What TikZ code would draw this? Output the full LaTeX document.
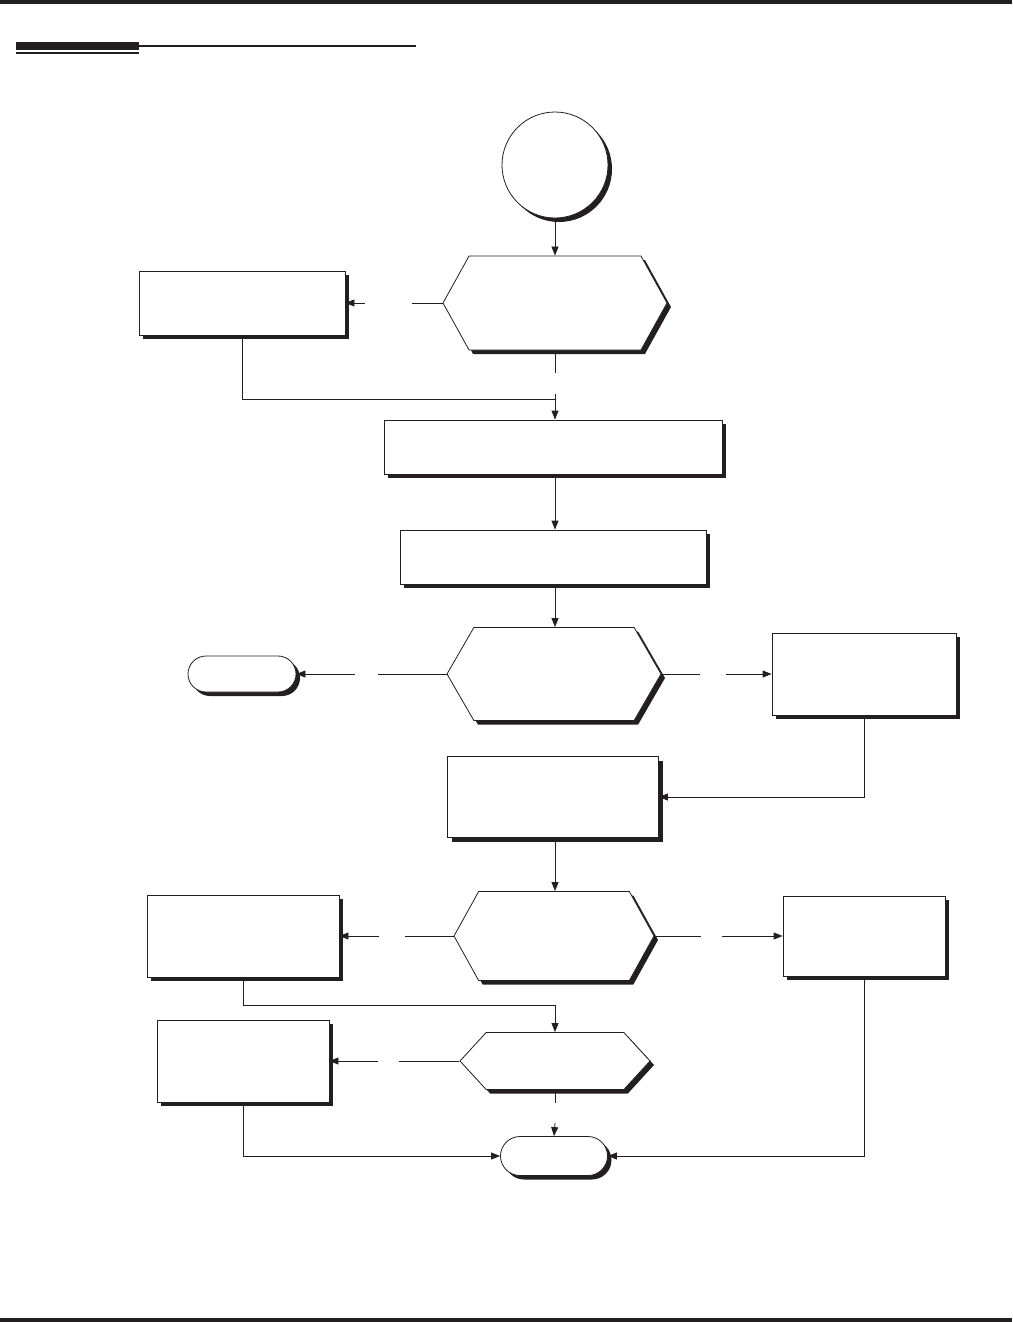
\documentclass[tikz,border=0pt]{standalone}
\usepackage{tikz}
\usetikzlibrary{arrows.meta, positioning, shapes.misc, shapes.symbols, shadows}
\definecolor{ink}{RGB}{35,31,32}

\begin{document}
\begin{tikzpicture}[
	x=1pt, y=-1pt,
	color=ink,
	line width=0.8pt,
	>={Triangle[length=9pt,width=7pt]},
	% Style for the offset shadow behind every shape
	shadowed/.style={drop shadow={shadow xshift=4pt, shadow yshift=-4pt, fill=ink, opacity=1}},
	% Style for process boxes
	box/.style={rectangle, draw, fill=white, inner sep=0pt, shadowed},
	% Style for decision hexagons
	decision/.style={signal, signal to=east and west, draw, fill=white, inner sep=0pt, shadowed},
	% Style for start / end terminals
	terminal/.style={rounded rectangle, draw, fill=white, inner sep=0pt, shadowed}
	]
	
	\useasboundingbox (0,0) rectangle (1012,1322);
	
	% 1. Page rules and header bar
	\fill (0,0) rectangle (1012,4);
	\fill (0,1318) rectangle (1012,1322);
	\fill (16,42) rectangle (139,50);
	\fill (16,52) rectangle (139,54);
	\fill (139,45) rectangle (416,47);
	
	% 2. Start and first decision
	\node[circle, draw, fill=white, inner sep=0pt, minimum size=106pt, shadowed] (start) at (555,165) {};
	\node[decision, minimum width=224pt, minimum height=94pt, signal pointer angle=122] (dec1) at (555,303) {};
	\node[box, minimum width=206pt, minimum height=64pt] (boxA) at (242,303) {};
	
	% 3. Main column boxes
	\node[box, minimum width=338pt, minimum height=54pt] (boxB) at (553,447) {};
	\node[box, minimum width=306pt, minimum height=54pt] (boxC) at (553,557) {};
	
	% 4. Second decision with its branches
	\node[decision, minimum width=214pt, minimum height=93pt, signal pointer angle=120] (dec2) at (554,674) {};
	\node[terminal, minimum width=108pt, minimum height=36pt] (stopL) at (242,674) {};
	\node[box, minimum width=184pt, minimum height=82pt] (boxD) at (864,674) {};
	\node[box, minimum width=211pt, minimum height=81pt] (boxE) at (553,797) {};
	
	% 5. Third decision with its branches
	\node[decision, minimum width=200pt, minimum height=89pt, signal pointer angle=122] (dec3) at (554,936) {};
	\node[box, minimum width=192pt, minimum height=82pt] (boxF) at (243,936) {};
	\node[box, minimum width=162pt, minimum height=80pt] (boxG) at (864,936) {};
	
	% 6. Last decision and end terminal
	\node[decision, minimum width=190pt, minimum height=57pt, signal pointer angle=95] (dec4) at (555,1061) {};
	\node[box, minimum width=172pt, minimum height=82pt] (boxH) at (243,1061) {};
	\node[terminal, minimum width=107pt, minimum height=39pt] (stopE) at (554,1156) {};
	
	% 7. Gap ends of the broken connectors
	\coordinate (gA1) at (412,303);
	\coordinate (gA2) at (365,303);
	\coordinate (gB1) at (555,373);
	\coordinate (gB2) at (555,394);
	\coordinate (jB) at (555,399);
	\coordinate (gC1) at (378,674);
	\coordinate (gC2) at (355,674);
	\coordinate (gD1) at (700,674);
	\coordinate (gD2) at (726,674);
	\coordinate (gF1) at (405,936);
	\coordinate (gF2) at (379,936);
	\coordinate (gG1) at (701,936);
	\coordinate (gG2) at (722,936);
	\coordinate (jH) at (555,1005);
	\coordinate (gH1) at (399,1061);
	\coordinate (gH2) at (378,1061);
	\coordinate (gE1) at (555,1103);
	\coordinate (gE2) at (555,1123);
	
	% 8. Connectors
	\draw[->] (start) -- (dec1);
	\draw (dec1.west) -- (gA1);
	\draw[->] (gA2) -- (boxA.east);
	\draw (dec1.south) -- (gB1);
	\draw (boxA.south) |- (jB);
	\draw[->] (gB2) -- (boxB.north -| gB2);
	\draw[->] (boxB.south -| gB2) -- (boxC.north -| gB2);
	\draw[->] (boxC.south -| gB2) -- (dec2.north -| gB2);
	\draw (dec2.west) -- (gC1);
	\draw[->] (gC2) -- (stopL.east);
	\draw (dec2.east) -- (gD1);
	\draw[->] (gD2) -- (boxD.west);
	\draw[->] (boxD.south) |- (boxE.east);
	\draw[->] (boxE.south -| gB2) -- (dec3.north -| gB2);
	\draw (dec3.west) -- (gF1);
	\draw[->] (gF2) -- (boxF.east);
	\draw (dec3.east) -- (gG1);
	\draw[->] (gG2) -- (boxG.west);
	\draw[->] (boxF.south) |- (jH) -- (dec4.north);
	\draw (dec4.west) -- (gH1);
	\draw[->] (gH2) -- (boxH.east);
	\draw (dec4.south) -- (gE1);
	\draw[->] (gE2) -- (stopE.north);
	\draw[->] (boxH.south) |- (stopE.west);
	\draw[->] (boxG.south) |- (stopE.east);
	
\end{tikzpicture}
\end{document}
